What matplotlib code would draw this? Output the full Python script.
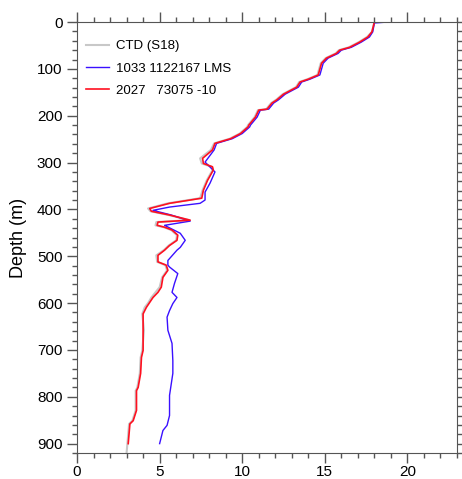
import numpy as np
import matplotlib
matplotlib.use("Agg")
import matplotlib.pyplot as plt
from matplotlib.ticker import MultipleLocator

# depth (m) / temperature values
red_depth = [0, 21, 32, 43, 54, 60, 67, 77, 88, 113, 122, 128, 139, 154, 166, 173, 186,
             188, 203, 220, 224, 238, 249, 259, 273, 291, 302, 309, 316, 338, 359, 376,
             380, 387, 398, 404, 412, 423, 427, 434, 438, 444, 455, 466, 477, 487, 498,
             512, 519, 530, 545, 566, 577, 588, 609, 623, 658, 701, 716, 750, 780, 787,
             829, 851, 858, 900]
red_temp = [18.0, 17.85, 17.6, 17.1, 16.5, 15.9, 15.7, 15.1, 14.8, 14.6, 14.0, 13.5, 13.3,
            12.5, 12.1, 11.8, 11.5, 11.0, 10.8, 10.4, 10.35, 9.9, 9.3, 8.35, 8.2, 7.6,
            7.65, 8.2, 8.25, 7.9, 7.65, 7.55, 6.85, 5.6, 4.4, 4.5, 5.6, 6.85, 4.9, 4.85,
            5.3, 5.75, 6.1, 6.05, 5.6, 5.3, 4.9, 4.9, 5.4, 5.5, 5.2, 5.1, 4.9, 4.6, 4.2,
            4.0, 4.0, 4.0, 3.9, 3.85, 3.7, 3.6, 3.6, 3.4, 3.2, 3.1]

blue_depth = [0, 2, 21, 32, 43, 54, 60, 67, 77, 88, 113, 122, 128, 139, 154, 166, 173, 186,
              188, 203, 220, 224, 238, 249, 259, 273, 299, 320, 344, 363, 380, 387, 395,
              402, 412, 425, 434, 451, 466, 481, 487, 509, 519, 523, 537, 558, 577, 588,
              601, 616, 630, 658, 686, 723, 750, 797, 840, 861, 872, 900]
blue_temp = [18.8, 18.0, 17.9, 17.7, 17.2, 16.6, 16.0, 15.8, 15.2, 14.9, 14.7, 14.1, 13.6,
             13.4, 12.6, 12.2, 11.9, 11.6, 11.1, 10.9, 10.5, 10.45, 10.0, 9.4, 8.45, 8.3,
             7.75, 8.35, 8.05, 7.75, 7.75, 7.45, 5.6, 4.6, 5.7, 6.85, 5.3, 6.25, 6.55,
             6.25, 6.05, 5.5, 5.5, 5.6, 6.1, 5.9, 5.75, 6.05, 5.8, 5.6, 5.45, 5.5, 5.75,
             5.8, 5.8, 5.6, 5.6, 5.45, 5.2, 5.0]

# CTD reference profile: lies almost under the red one
ctd_depth = [0, 21, 32, 43, 54, 60, 67, 77, 88, 113, 122, 128, 139, 154, 166, 173, 186,
             188, 203, 220, 224, 238, 249, 259, 273, 291, 302, 309, 316, 338, 359, 376,
             380, 387, 398, 404, 412, 423, 427, 434, 438, 444, 455, 466, 477, 487, 498,
             512, 519, 530, 545, 566, 577, 588, 600, 609, 623, 658, 701, 716, 750, 780,
             787, 829, 851, 858, 900, 920]
ctd_temp = [18.0, 17.85, 17.55, 17.05, 16.45, 15.85, 15.65, 15.05, 14.75, 14.55, 13.95,
            13.45, 13.25, 12.45, 12.05, 11.75, 11.45, 10.95, 10.75, 10.35, 10.3, 9.85, 9.25,
            8.3, 8.1, 7.45, 7.55, 8.15, 8.2, 7.85, 7.6, 7.45, 6.75, 5.5, 4.3, 4.45, 5.55,
            6.8, 4.8, 4.75, 5.25, 5.7, 6.05, 6.0, 5.55, 5.25, 4.8, 4.85, 5.35, 5.45, 5.15,
            5.0, 4.75, 4.5, 4.3, 4.1, 3.95, 4.05, 3.95, 3.85, 3.8, 3.65, 3.55, 3.55, 3.35,
            3.15, 3.05, 3.0]

labels = ["CTD (S18)", "1033 1122167 LMS", "2027   73075 -10"]

plt.rcParams['font.family'] = ['Liberation Sans', 'DejaVu Sans']

fig = plt.figure(figsize=(4.62, 4.79), dpi=100)
ax = fig.add_axes([0.1667, 0.0543, 0.8225, 0.8997])

ax.plot(ctd_temp, ctd_depth, color='#c8c8c8', lw=1.5, label=labels[0])
ax.plot(blue_temp, blue_depth, color='#3a10ff', lw=1.0, label=labels[1])
ax.plot(red_temp, red_depth, color='#ff1020', lw=1.2, label=labels[2])

ax.set_xlim(0, 23)
ax.set_ylim(920, 0)
ax.xaxis.set_major_locator(MultipleLocator(5))
ax.xaxis.set_minor_locator(MultipleLocator(1))
ax.yaxis.set_major_locator(MultipleLocator(100))
ax.yaxis.set_minor_locator(MultipleLocator(20))
ax.tick_params(which='both', direction='out', top=True, right=True, colors='#555555',
               labelcolor='black', labelsize=11, width=1)
ax.tick_params(which='major', length=7)
ax.tick_params(which='minor', length=3.5)
ax.tick_params(axis='x', pad=2)
for s in ax.spines.values():
    s.set_color('#555555')
ax.set_ylabel('Depth (m)', fontsize=13, labelpad=7)

ax.legend(loc='upper left', frameon=False, fontsize=9.5, handlelength=1.7,
          labelspacing=0.75, borderaxespad=0.0, handletextpad=0.6,
          bbox_to_anchor=(0.01, 0.97))

fig.savefig('out.png', dpi=100)
